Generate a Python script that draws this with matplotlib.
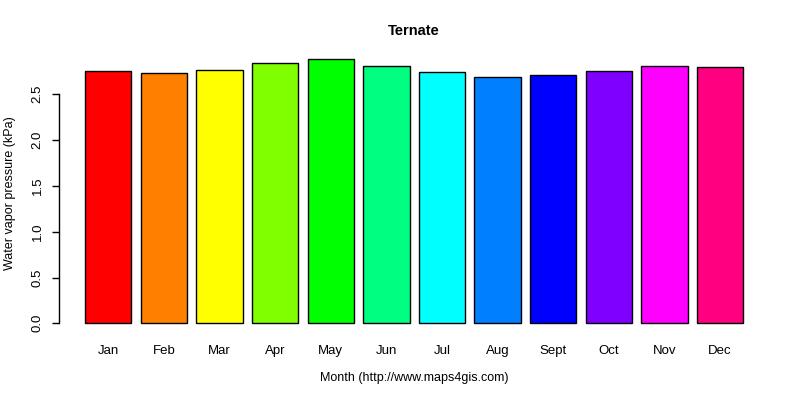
import matplotlib
matplotlib.use('Agg')
import matplotlib.pyplot as plt
import numpy as np

months = ['Jan', 'Feb', 'Mar', 'Apr', 'May', 'Jun', 'Jul', 'Aug', 'Sept', 'Oct', 'Nov', 'Dec']
vapor = [2.75, 2.73, 2.77, 2.84, 2.88, 2.81, 2.74, 2.69, 2.71, 2.75, 2.81, 2.80]
colors = ['#FF0000', '#FF8000', '#FFFF00', '#80FF00', '#00FF00', '#00FF80',
          '#00FFFF', '#0080FF', '#0000FF', '#8000FF', '#FF00FF', '#FF0080']
yticks = [0.0, 0.5, 1.0, 1.5, 2.0, 2.5]

plt.rcParams['font.family'] = ['Liberation Sans', 'DejaVu Sans']

fig = plt.figure(figsize=(8, 4), dpi=100)
# axes placed in pixel terms: left 59, right 770, top 50, bottom 335
ax = fig.add_axes([59 / 800, 1 - 335 / 400, (770 - 59) / 800, 285 / 400])

# R barplot layout: width 1, space 0.2
x = 0.2 + np.arange(len(months)) * 1.2 + 0.5
ax.bar(x, vapor, width=1.0, color=colors, edgecolor='black', linewidth=1.0)

u = 46.36  # px per bar unit
ax.set_xlim(0.2 - (85 - 59) / u, 0.2 + (770 - 85) / u)
ppu = 91.6
ax.set_ylim(-(335 - 323.3) / ppu, (323.3 - 50) / ppu)

for s in ['top', 'right', 'bottom']:
    ax.spines[s].set_visible(False)
ax.spines['left'].set_bounds(0, 2.5)
ax.spines['left'].set_linewidth(1.0)

ax.set_yticks(yticks)
ax.set_yticklabels(['%.1f' % v for v in yticks], rotation=90, va='center')
ax.tick_params(axis='y', length=5, width=1.0, pad=6, labelsize=9.5)
ax.set_xticks(x)
ax.set_xticklabels(months)
ax.tick_params(axis='x', length=0, pad=7.5, labelsize=9.5)

fig.text(414 / 800, 1 - 31 / 400, 'Ternate', ha='center', va='center',
         fontsize=10.5, fontweight='bold')
fig.text(414 / 800, 1 - 378 / 400, 'Month (http://www.maps4gis.com)',
         ha='center', va='center', fontsize=9)
fig.text(10 / 800, 1 - 193 / 400, 'Water vapor pressure (kPa)', rotation=90,
         ha='center', va='center', fontsize=9)

fig.savefig('out.png', dpi=100)
